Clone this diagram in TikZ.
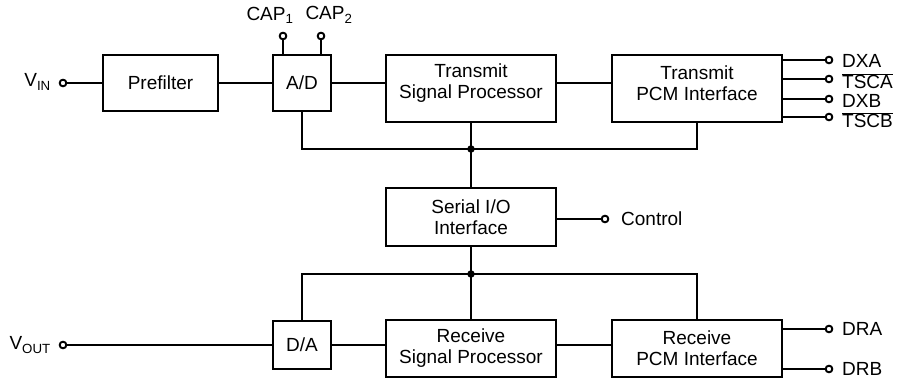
\documentclass[tikz,border=0pt]{standalone}
\usepackage{fontspec}
\setmainfont{Liberation Sans}
\begin{document}
\begin{tikzpicture}[x=1pt,y=-1pt,
  every node/.style={font=\fontsize{19}{21}\selectfont},
  blk/.style={draw,line width=2.2pt,align=center,inner sep=0pt,minimum width=170pt},
  txt/.style={align=center,inner sep=0pt},
  wire/.style={line width=2.2pt},
  pin/.style={circle,draw,fill=white,line width=1.8pt,inner sep=0pt,minimum size=6.5pt},
  dot/.style={circle,fill=black,inner sep=0pt,minimum size=7.5pt},
  lbl/.style={inner sep=0pt}]
\useasboundingbox (0,0) rectangle (898,382);
% blocks
\node[blk,minimum width=115pt,minimum height=56pt] (pre) at (160.5,83) {Prefilter};
\node[blk,minimum width=58pt,minimum height=56pt] (ad) at (302,83) {A/D};
\node[blk,minimum height=67pt] (tsp) at (471,88.5) {};
\node[txt] (tspt) at (471,83) {Transmit\\Signal Processor};
\node[blk,minimum height=67pt] (tpcm) at (697,88.5) {};
\node[txt] (tpcmt) at (697,83) {Transmit\\PCM Interface};
\node[blk,minimum height=58pt] (sio) at (471,217) {Serial I/O\\Interface};
\node[blk,minimum height=57pt] (rsp) at (471,348.5) {Receive\\Signal Processor};
\node[blk,minimum height=57pt] (rpcm) at (697,348.5) {Receive\\PCM Interface};
\node[blk,minimum width=58pt,minimum height=48pt] (da) at (302,345) {D/A};
% junctions and pins
\coordinate (j1) at (471,149);
\coordinate (j2) at (471,274);
\node[pin] (vin) at (63,83) {};
\node[pin] (vout) at (63,345) {};
\node[pin] (cap1) at (283,36) {};
\node[pin] (cap2) at (321,36) {};
\node[pin] (ctl) at (605,219) {};
\node[pin] (dxa) at (829,60) {};
\node[pin] (tsca) at (829,79) {};
\node[pin] (dxb) at (829,99) {};
\node[pin] (tscb) at (829,117) {};
\node[pin] (dra) at (829,329) {};
\node[pin] (drb) at (829,369) {};
% wires
\draw[wire] (vin) -- (pre.west);
\draw[wire] (pre.east) -- (ad.west);
\draw[wire] (ad.east) -- (ad.east -| tsp.west);
\draw[wire] (tsp.east |- ad.east) -- (tpcm.west |- ad.east);
\draw[wire] (cap1) -- (cap1 |- ad.north);
\draw[wire] (cap2) -- (cap2 |- ad.north);
\draw[wire] (ad.south) |- (j1) -| (tpcm.south);
\draw[wire] (tsp.south) -- (sio.north);
\draw[wire] (sio.east |- ctl) -- (ctl);
\draw[wire] (sio.south) -- (rsp.north);
\draw[wire] (da.north) |- (j2) -| (rpcm.north);
\draw[wire] (vout) -- (da.west);
\draw[wire] (da.east) -- (da.east -| rsp.west);
\draw[wire] (rsp.east |- da.east) -- (rpcm.west |- da.east);
\foreach \p in {dxa,tsca,dxb,tscb,dra,drb} \draw[wire] (\p -| tpcm.east) -- (\p);
\node[dot] at (j1) {};
\node[dot] at (j2) {};
\foreach \p in {vin,vout,cap1,cap2,ctl,dxa,tsca,dxb,tscb,dra,drb} \node[pin] at (\p) {};
% labels
\node[lbl,anchor=east] at (51,82) {V\textsubscript{IN}};
\node[lbl,anchor=east] at (51,345) {V\textsubscript{OUT}};
\node[lbl] at (270,15) {CAP\textsubscript{1}};
\node[lbl] at (329,15) {CAP\textsubscript{2}};
\node[lbl,anchor=west] at (621,219) {Control};
\node[lbl,anchor=west] at (842,61) {DXA};
\node[lbl,anchor=west] at (842,81) {$\overline{\mbox{TSCA}}$};
\node[lbl,anchor=west] at (842,101) {DXB};
\node[lbl,anchor=west] at (842,120) {$\overline{\mbox{TSCB}}$};
\node[lbl,anchor=west] at (842,329) {DRA};
\node[lbl,anchor=west] at (842,369) {DRB};
\end{tikzpicture}
\end{document}
